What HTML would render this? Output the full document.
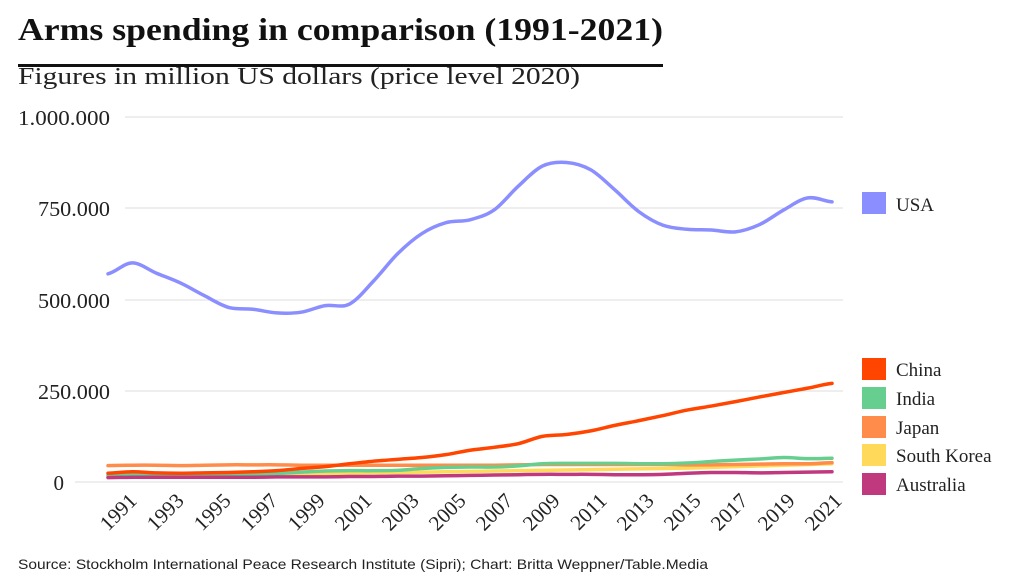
<!DOCTYPE html>
<html><head><meta charset="utf-8"><style>
html,body{margin:0;padding:0;background:#fff;width:1024px;height:576px;overflow:hidden}
svg text{font-family:"Liberation Serif",serif}
</style></head><body>
<svg width="1024" height="576" xmlns="http://www.w3.org/2000/svg">
<text x="18" y="40" font-size="32" font-weight="bold" textLength="645" lengthAdjust="spacingAndGlyphs" fill="#111">Arms spending in comparison (1991-2021)</text>
<rect x="18" y="64" width="645" height="3" fill="#111"/>
<text x="18" y="84" font-size="24" textLength="562" lengthAdjust="spacingAndGlyphs" fill="#222">Figures in million US dollars (price level 2020)</text>
<g stroke="#ddd" stroke-width="1">
<line x1="125" y1="117" x2="843" y2="117"/>
<line x1="125" y1="208" x2="843" y2="208"/>
<line x1="125" y1="300" x2="843" y2="300"/>
<line x1="125" y1="391" x2="843" y2="391"/>
<line x1="75" y1="482" x2="843" y2="482"/>
</g>
<g font-size="21" fill="#222" text-anchor="end">
<text x="110" y="125" textLength="92" lengthAdjust="spacingAndGlyphs">1.000.000</text>
<text x="110" y="216" textLength="72" lengthAdjust="spacingAndGlyphs">750.000</text>
<text x="110" y="308" textLength="72" lengthAdjust="spacingAndGlyphs">500.000</text>
<text x="110" y="399" textLength="72" lengthAdjust="spacingAndGlyphs">250.000</text>
<text x="64" y="490">0</text>
</g>
<g font-size="21" fill="#222" text-anchor="end" id="xl"></g>
<g fill="none" stroke-width="3.5" stroke-linejoin="round" stroke-linecap="round" id="lines"></g>
<g font-size="19" fill="#222">
<rect x="862" y="192" width="24" height="22" fill="#8a8eff"/><text x="896" y="211">USA</text>
<rect x="862" y="358" width="24" height="22" fill="#ff4500"/><text x="896" y="376">China</text>
<rect x="862" y="387" width="24" height="22" fill="#66cf8f"/><text x="896" y="405">India</text>
<rect x="862" y="416" width="24" height="22" fill="#ff8c4a"/><text x="896" y="434">Japan</text>
<rect x="862" y="444" width="24" height="22" fill="#ffd95a"/><text x="896" y="462">South Korea</text>
<rect x="862" y="473" width="24" height="22" fill="#c0397f"/><text x="896" y="491">Australia</text>
</g>
<text x="18" y="569" font-size="14" fill="#222" style="font-family:'Liberation Sans',sans-serif" textLength="690" lengthAdjust="spacingAndGlyphs">Source: Stockholm International Peace Research Institute (Sipri); Chart: Britta Weppner/Table.Media</text>
</svg>
<script>
var NS='http://www.w3.org/2000/svg';
var x0=108,dx=724/30;
function X(i){return x0+i*dx}function Y(v){return 482-v*0.3652}
var xl=document.getElementById('xl');
for(var i=0;i<=30;i+=2){var x=138+i*23.5,y=502;var t=document.createElementNS(NS,'text');
t.setAttribute('x',x);t.setAttribute('y',y);t.setAttribute('transform','rotate(-45 '+x+' '+y+')');t.textContent=String(1991+i);xl.appendChild(t);}
var D=[
['#ffd95a',[15,16,17,17,18,19,20,21,22,23,24,25,26,27,28,29,30,31,32,33,34,35,36,37,38,40,42,44,46,48,50]],
['#ff8c4a',[45,46,46,45,46,47,47,47,46,46,46,46,46,46,46,46,46,47,48,48,48,48,48,48,47,47,48,49,50,50,53]],
['#66cf8f',[18,19,18,18,19,20,21,23,27,30,31,31,32,37,40,41,41,44,50,51,51,51,50,50,52,56,60,63,67,64,65]],
['#c0397f',[12,13,13,13,13,13,13,14,14,14,15,15,16,16,17,18,19,20,21,21,21,20,20,21,24,26,26,25,26,27,28]],
['#ff4500',[24,28,25,24,25,26,28,31,37,42,50,57,62,67,75,87,95,105,125,130,140,155,168,182,197,208,220,233,245,257,270]],
['#8a8eff',[570,600,572,545,510,478,473,463,465,483,487,550,625,680,710,718,745,810,865,875,855,800,740,703,692,690,685,705,745,778,767]]];
var g=document.getElementById('lines');
for(var k=0;k<D.length;k++){var c=D[k][0],a=D[k][1],p='M'+X(0)+','+Y(a[0]);
for(var i=1;i<a.length;i++){var x1=X(i-1),y1=Y(a[i-1]),x2=X(i),y2=Y(a[i]);
var yp=Y(a[Math.max(i-2,0)]),yn=Y(a[Math.min(i+1,a.length-1)]);
p+=' C'+(x1+dx/3)+','+(y1+(y2-yp)/6)+' '+(x2-dx/3)+','+(y2-(yn-y1)/6)+' '+x2+','+y2;}
var e=document.createElementNS(NS,'path');e.setAttribute('d',p);e.setAttribute('stroke',c);g.appendChild(e);}
</script>
</body></html>
